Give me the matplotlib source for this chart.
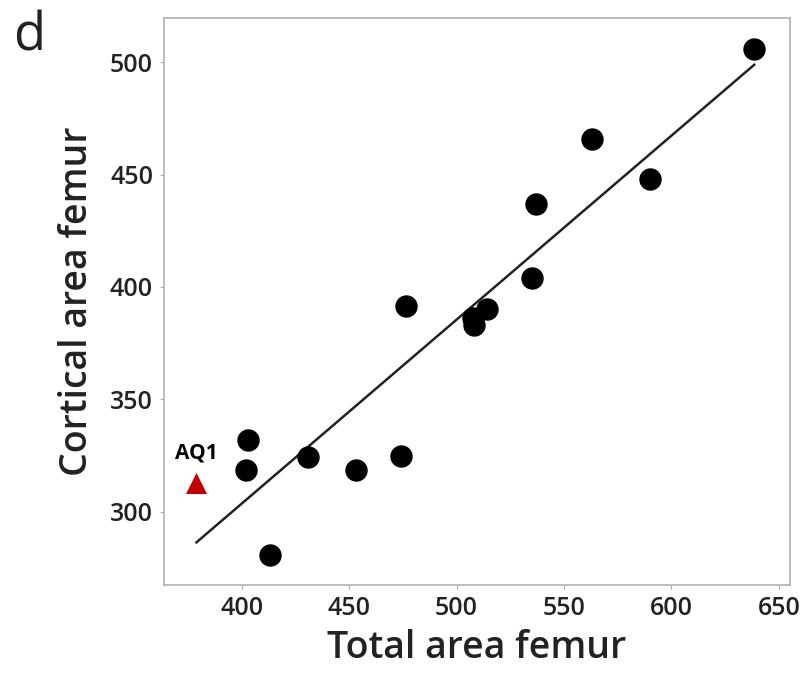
import numpy as np
import matplotlib.pyplot as plt

plt.rcParams['font.family'] = ['Open Sans', 'DejaVu Sans']

# femur data
total_area = [638.5, 563, 590, 537, 535, 476.5, 514, 507.5, 508, 403, 402, 431, 453, 474, 413]
cortical_area = [506, 466, 448, 437, 404, 391.5, 390, 386, 383, 332, 318.5, 324.5, 318.5, 325, 281]
aq1_total = [379]
aq1_cortical = [313]

fig = plt.figure(figsize=(8.05, 6.74), dpi=100)
ax = fig.add_axes([0.204, 0.132, 0.777, 0.841])

ax.scatter(total_area, cortical_area, s=260, color='black', zorder=3, linewidths=0)
ax.scatter(aq1_total, aq1_cortical, s=230, marker='^', color='#c00000', zorder=3, linewidths=0)
ax.annotate('AQ1', (aq1_total[0], aq1_cortical[0]), xytext=(0, 14), textcoords='offset points',
            ha='center', va='bottom', fontsize=15, fontweight='bold')

# regression line over all points
x_all = np.array(total_area + aq1_total)
y_all = np.array(cortical_area + aq1_cortical)
slope, icpt = np.polyfit(x_all, y_all, 1)
xl = np.array([x_all.min(), x_all.max()])
ax.plot(xl, slope * xl + icpt, color='#222222', lw=1.8, zorder=2)

ax.set_xlim(364, 655)
ax.set_ylim(267.5, 519.5)
ax.set_xticks([400, 450, 500, 550, 600, 650])
ax.set_yticks([300, 350, 400, 450, 500])
ax.tick_params(labelsize=18, length=3, color='#aaaaaa', pad=5)
for lab in ax.get_xticklabels() + ax.get_yticklabels():
    lab.set_fontweight('semibold')
    lab.set_color('#222222')
for sp in ax.spines.values():
    sp.set_color('#b0b0b0')
    sp.set_linewidth(1.2)

ax.set_xlabel('Total area femur', fontsize=27, fontweight='semibold', labelpad=6, color='#222222')
ax.set_ylabel('Cortical area femur', fontsize=27, fontweight='semibold', labelpad=10, color='#222222')
fig.text(0.016, 0.985, 'd', fontsize=38, va='top', ha='left', color='#222222')

fig.savefig('out.png', dpi=100)
